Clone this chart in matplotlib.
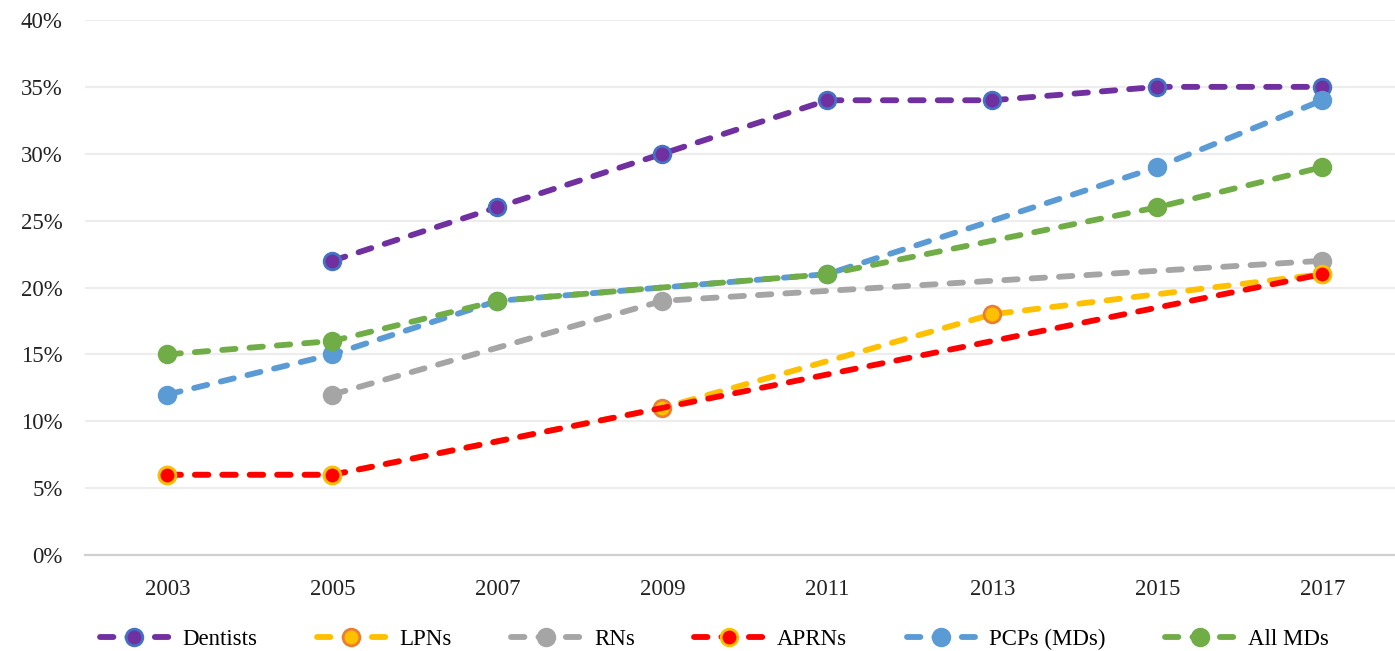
import numpy as np
import matplotlib.pyplot as plt
from matplotlib.ticker import FuncFormatter

plt.rcParams['font.family'] = ['Liberation Serif', 'DejaVu Serif']

years = [2003, 2005, 2007, 2009, 2011, 2013, 2015, 2017]
nan = np.nan

dentists = [nan, 22, 26, 30, 34, 34, 35, 35]
lpns = [6, 6, nan, 11, nan, 18, nan, 21]
rns = [nan, 12, nan, 19, nan, nan, nan, 22]
aprns = [6, 6, nan, nan, nan, nan, nan, 21]
pcps = [12, 15, 19, nan, 21, nan, 29, 34]
all_mds = [15, 16, 19, nan, 21, nan, 26, 29]

labels = ['Dentists', 'LPNs', 'RNs', 'APRNs', 'PCPs (MDs)', 'All MDs']
series = [dentists, lpns, rns, aprns, pcps, all_mds]
line_colors = ['#7030A0', '#FFC000', '#A5A5A5', '#FF0000', '#5B9BD5', '#70AD47']
edge_colors = ['#4472C4', '#ED7D31', '#A5A5A5', '#FFC000', '#5B9BD5', '#70AD47']

fig = plt.figure(figsize=(13.95, 6.51), dpi=100)
ax = fig.add_axes([85 / 1395, 1 - 555 / 651, 1 - 85 / 1395, (555 - 20) / 651])

x = np.array(years)
for vals, lab, lc, ec in zip(series, labels, line_colors, edge_colors):
    v = np.array(vals, dtype=float)
    ok = ~np.isnan(v)
    ax.plot(x[ok], v[ok], color=lc, lw=4.2, dashes=(2.3, 2.4),
            dash_capstyle='round', marker='o', markersize=12,
            markerfacecolor=lc, markeredgecolor=ec, markeredgewidth=2,
            label=lab)

ax.set_xlim(2002, 2017.88)
ax.set_ylim(0, 40)
ax.set_xticks(years)
ax.set_yticks(np.arange(0, 41, 5))
ax.yaxis.set_major_formatter(FuncFormatter(lambda v, p: '%d%%' % v))
ax.tick_params(length=0, labelsize=16.5, colors='#222222')
ax.tick_params(axis='x', pad=17)
ax.tick_params(axis='y', pad=16)
ax.grid(axis='y', color='#EDEDED', lw=1.6)
ax.set_axisbelow(True)
for s in ['top', 'right', 'left']:
    ax.spines[s].set_visible(False)
ax.spines['bottom'].set_color('#D0D0D0')
ax.spines['bottom'].set_linewidth(1.6)

fig.legend(loc='center', bbox_to_anchor=(0.512, 0.018), ncol=6, frameon=False,
           fontsize=16.5, handlelength=3.0, columnspacing=2.6, handletextpad=0.6)

fig.savefig('out.png', dpi=100)
